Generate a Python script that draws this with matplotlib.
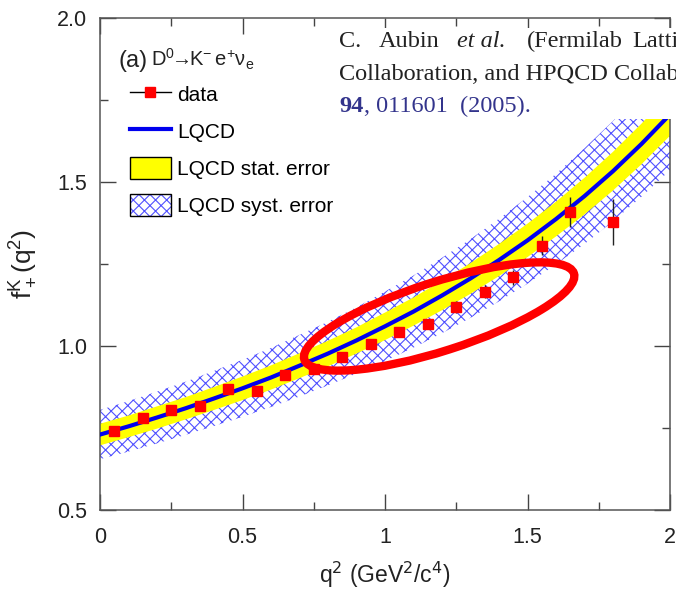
import numpy as np
import matplotlib
matplotlib.use('Agg')
import matplotlib.pyplot as plt
import matplotlib.transforms as mtransforms
from matplotlib.patches import Ellipse, Patch, Rectangle
from matplotlib.lines import Line2D
from matplotlib.legend_handler import HandlerTuple

plt.rcParams['font.family'] = ['Liberation Sans', 'DejaVu Sans']
plt.rcParams['hatch.linewidth'] = 0.8

# measured form factor points
q2_data = [0.05, 0.15, 0.25, 0.35, 0.45, 0.55, 0.65, 0.75, 0.85,
           0.95, 1.05, 1.15, 1.25, 1.35, 1.45, 1.55, 1.65, 1.80]
f_data = [0.741, 0.780, 0.805, 0.818, 0.868, 0.862, 0.911, 0.929, 0.967,
          1.006, 1.044, 1.068, 1.119, 1.166, 1.209, 1.306, 1.409, 1.379]
f_err = [0.008, 0.008, 0.008, 0.009, 0.009, 0.010, 0.010, 0.011, 0.012,
         0.013, 0.014, 0.015, 0.017, 0.019, 0.022, 0.030, 0.045, 0.070]

# lattice QCD prediction with its stat / syst bands
q2_lqcd = [0.0, 0.1, 0.2, 0.3, 0.4, 0.5, 0.6, 0.7, 0.8, 0.9, 1.0,
           1.1, 1.2, 1.3, 1.4, 1.5, 1.6, 1.7, 1.8, 1.9, 2.0]
f_lqcd = [0.730, 0.755, 0.782, 0.810, 0.840, 0.871, 0.904, 0.940, 0.977, 1.017, 1.060,
          1.105, 1.154, 1.206, 1.262, 1.322, 1.387, 1.457, 1.533, 1.616, 1.706]
stat_err = [0.033, 0.033, 0.034, 0.034, 0.035, 0.036, 0.037, 0.038, 0.039, 0.040, 0.042,
            0.043, 0.045, 0.047, 0.049, 0.051, 0.053, 0.056, 0.059, 0.062, 0.065]
syst_err = [0.075, 0.077, 0.079, 0.081, 0.084, 0.087, 0.090, 0.094, 0.097, 0.101, 0.106,
            0.110, 0.115, 0.120, 0.126, 0.132, 0.138, 0.146, 0.153, 0.161, 0.170]

x_ticks = [0, 0.5, 1, 1.5, 2]
x_tick_labels = ['0', '0.5', '1', '1.5', '2']
y_ticks = [0.5, 1.0, 1.5, 2.0]
y_tick_labels = ['0.5', '1.0', '1.5', '2.0']

W, H = 676, 597
def fpos(x, y):
    return x / W, 1 - y / H

fig = plt.figure(figsize=(W / 100, H / 100), dpi=100)
ax = fig.add_axes([100 / W, 87 / H, 570 / W, 492 / H])

q = np.array(q2_lqcd)
f = np.array(f_lqcd)
st = np.array(stat_err)
sy = np.array(syst_err)

hatch_col = '#5050ff'
ax.fill_between(q, f - sy, f + sy, facecolor='none', edgecolor=hatch_col,
                hatch='xxx', linewidth=0, zorder=1)
ax.fill_between(q, f - st, f + st, facecolor='#ffff00', edgecolor='none', zorder=2)
ax.plot(q, f, color='#0000ee', lw=3, zorder=3)

ax.errorbar(q2_data, f_data, yerr=f_err, fmt='s', ms=7, mfc='#ff0000', mec='#ff0000',
            ecolor='#222222', elinewidth=1, capsize=0, zorder=4)

# highlight ring around the mid-q2 points
ring_at = mtransforms.ScaledTranslation(1.19, 1.09, ax.transData)
ax.add_patch(Ellipse((0, 0), 2.83, 0.69, angle=17.7, fill=False, edgecolor='#ff0000',
                     lw=6, transform=fig.dpi_scale_trans + ring_at, zorder=6))

ax.set_xlim(0, 2)
ax.set_ylim(0.5, 2.0)
ax.set_xticks(x_ticks, x_tick_labels)
ax.set_yticks(y_ticks, y_tick_labels)
ax.set_xticks(np.arange(0.25, 2, 0.5), minor=True)
ax.set_yticks([0.75, 1.25, 1.75], minor=True)
ax.tick_params(which='both', direction='in', top=True, right=True, color='#444444',
               width=1, labelsize=15.5, labelcolor='#222222')
ax.tick_params(which='major', length=11.5)
ax.tick_params(which='minor', length=5.8)
ax.tick_params(axis='x', pad=12)
ax.tick_params(axis='y', pad=9)
for s in ax.spines.values():
    s.set_color('#555555')
    s.set_linewidth(1.1)

ax.set_xlabel(r'q$^2$ (GeV$^2$/c$^4$)', fontsize=16.5, color='#222222', labelpad=9)
ax.set_ylabel(r'$\mathregular{f_+^K(q^2)}$', fontsize=19, color='#222222', labelpad=14)

# legend
handles = [
    Line2D([], [], color='black', lw=1, marker='s', ms=7, mfc='#ff0000', mec='#ff0000'),
    Line2D([], [], color='#0000ee', lw=3),
    Patch(facecolor='#ffff00', edgecolor='black', lw=1),
    (Patch(facecolor='white', edgecolor=hatch_col, hatch='xxx', lw=0),
     Patch(facecolor='none', edgecolor='black', lw=1)),
]
labels = ['data', 'LQCD', 'LQCD stat. error', 'LQCD syst. error']
ax.legend(handles, labels, loc='upper left', bbox_to_anchor=fpos(130, 83),
          bbox_transform=fig.transFigure, frameon=False, fontsize=15,
          handlelength=1.95, handleheight=1.3, handletextpad=0.3,
          labelspacing=0.68, borderpad=0, borderaxespad=0,
          handler_map={tuple: HandlerTuple(ndivide=1, pad=0)})

fig.text(*fpos(118, 67), '(a)', fontsize=17, color='#222222', va='baseline')
fig.text(*fpos(151, 67), r'$\mathregular{D^{0}\!\!\rightarrow\!\!K^{-}\,e^{+}\nu_{e}}$',
         fontsize=14.5, color='#222222', va='baseline')

# reference note pasted on a white panel
fig.add_artist(Rectangle(fpos(325, 119), (W - 325) / W, (119 - 28) / H,
                         transform=fig.transFigure, facecolor='white',
                         edgecolor='none', zorder=3))
serif = ['Liberation Serif', 'DejaVu Serif']
cite = dict(fontsize=17.5, family=serif, va='baseline', zorder=4)
fig.text(*fpos(339, 47), 'C.', color='#222222', **cite)
fig.text(*fpos(379, 47), 'Aubin', color='#222222', **cite)
fig.text(*fpos(457, 47), 'et al.', color='#222222', style='italic', **cite)
fig.text(*fpos(527, 47), '(Fermilab', color='#222222', **cite)
fig.text(*fpos(632, 47), 'Lattice', color='#222222', **cite)
fig.text(*fpos(339, 80), 'Collaboration, and HPQCD Collaboration)', color='#222222', **cite)
fig.text(*fpos(339, 112), '94', color='#33348c', weight='bold', **cite)
fig.text(*fpos(364, 112), ', 011601  (2005).', color='#33348c', **cite)

fig.savefig('out.png', dpi=100)
